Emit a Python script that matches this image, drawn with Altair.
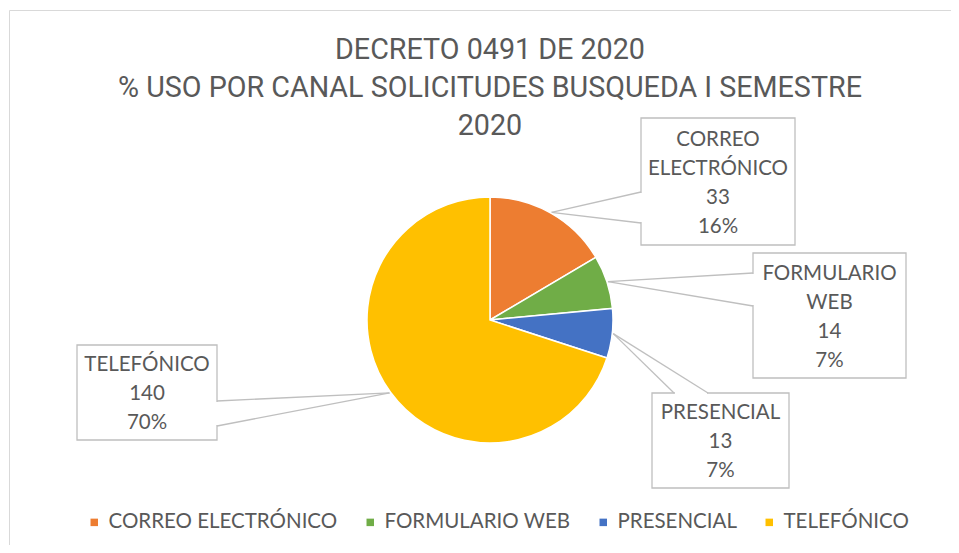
import math
import altair as alt
import pandas as pd

# ---------------- data ----------------
categories = ["CORREO ELECTRÓNICO", "FORMULARIO WEB", "PRESENCIAL", "TELEFÓNICO"]
values = [33, 14, 13, 140]
pct_labels = ["16%", "7%", "7%", "70%"]
label_names = ["CORREO\nELECTRÓNICO", "FORMULARIO\nWEB", "PRESENCIAL", "TELEFÓNICO"]
colors = ["#ED7D31", "#70AD47", "#4472C4", "#FFC000"]
title_lines = ["DECRETO 0491 DE 2020",
               "% USO POR CANAL SOLICITUDES BUSQUEDA I SEMESTRE",
               "2020"]

# ---------------- layout (page pixel coordinates) ----------------
W, H = 943, 537
CX, CY, R = 490, 320, 123
box_x1 = [641, 753, 652, 77]
box_x2 = [795, 906, 789, 217]
box_y1 = [118, 253, 393, 345]
box_y2 = [245, 378, 488, 440]
base_a = [(641, 192), (753, 273), (674, 393), (217, 401)]
base_b = [(641, 223), (753, 306), (708, 393), (217, 426)]
title_y = [50, 88, 126]
title_x = 490
LINE_H = 29

TEXT = "#595959"
GRID = "#BFBFBF"
LABEL_FONT = "Lato"
TITLE_FONT = "Roboto"

xs = alt.Scale(domain=[8, 8 + W], nice=False, zero=False)
ys = alt.Scale(domain=[8, 8 + H], nice=False, zero=False, reverse=True)


def X(f):
    return alt.X(f, type="quantitative", scale=xs, axis=None)


def Y(f):
    return alt.Y(f, type="quantitative", scale=ys, axis=None)


# ---------------- pie ----------------
pie_df = pd.DataFrame({"cat": categories, "val": values, "idx": list(range(len(values)))})
pie = alt.Chart(pie_df).mark_arc(
    x=CX - 8, y=CY - 8, outerRadius=R, stroke="white", strokeWidth=1.5
).encode(
    theta=alt.Theta("val:Q", stack=True),
    order=alt.Order("idx:Q"),
    color=alt.Color(
        "cat:N",
        scale=alt.Scale(domain=categories, range=colors),
        legend=alt.Legend(
            title=None, orient="none", direction="horizontal",
            legendX=76, legendY=504,
            symbolType="square", symbolSize=56, symbolStrokeWidth=0,
            labelFont=LABEL_FONT, labelFontSize=20.5, labelColor=TEXT,
            labelOffset=4, columnPadding=22, labelLimit=400,
        ),
    ),
)

# ---------------- callouts ----------------
total = sum(values)
tips = []
cum = 0
for v in values:
    mid = (cum + v / 2) / total * 2 * math.pi
    tips.append((CX + (R + 1) * math.sin(mid), CY - (R + 1) * math.cos(mid)))
    cum += v

label_text = [f"{n}\n{v}\n{p}" for n, v, p in zip(label_names, values, pct_labels)]
n_lines = [t.count("\n") + 1 for t in label_text]
box_df = pd.DataFrame({
    "x1": box_x1, "x2": box_x2, "y1": box_y1, "y2": box_y2,
    "cx": [(a + b) / 2 for a, b in zip(box_x1, box_x2)],
    "cy": [(a + b) / 2 - (n - 1) / 2 * LINE_H + 1.5
           for a, b, n in zip(box_y1, box_y2, n_lines)],
    "label": label_text,
})

boxes = alt.Chart(box_df).mark_rect(fill="white", stroke=GRID, strokeWidth=1.3).encode(
    x=X("x1"), x2="x2", y=Y("y1"), y2="y2",
)

gap_rows = []
for (ax, ay), (bx, by) in zip(base_a, base_b):
    if ax == bx:
        gap_rows.append({"xa": ax, "xb": bx, "ya": ay + 1, "yb": by - 1})
    else:
        gap_rows.append({"xa": ax + 1, "xb": bx - 1, "ya": ay, "yb": by})
gaps = alt.Chart(pd.DataFrame(gap_rows)).mark_rule(color="white", strokeWidth=2.5).encode(
    x=X("xa"), x2="xb", y=Y("ya"), y2="yb"
)

lead_rows = []
for (ax, ay), (bx, by), (tx, ty) in zip(base_a, base_b, tips):
    lead_rows.append({"xa": ax, "ya": ay, "xb": tx, "yb": ty})
    lead_rows.append({"xa": bx, "ya": by, "xb": tx, "yb": ty})
leaders = alt.Chart(pd.DataFrame(lead_rows)).mark_rule(color=GRID, strokeWidth=1.3).encode(
    x=X("xa"), x2="xb", y=Y("ya"), y2="yb"
)

labels = alt.Chart(box_df).mark_text(
    font=LABEL_FONT, fontSize=20.5, color=TEXT, align="center", baseline="middle",
    lineBreak="\n", lineHeight=LINE_H,
).encode(x=X("cx"), y=Y("cy"), text="label:N")

# ---------------- title ----------------
title_df = pd.DataFrame({"t": title_lines, "ty": title_y, "tx": [title_x] * 3})
title = alt.Chart(title_df).mark_text(
    font=TITLE_FONT, fontSize=28.7, color=TEXT, align="center", baseline="middle"
).encode(x=X("tx"), y=Y("ty"), text="t:N")

# ---------------- chart border (top / left visible) ----------------
border_df = pd.DataFrame({"xa": [9.5, 9.5], "xb": [951, 9.5], "ya": [10.5, 10.5], "yb": [10.5, 545]})
border = alt.Chart(border_df).mark_rule(color="#D9D9D9", strokeWidth=1).encode(
    x=X("xa"), x2="xb", y=Y("ya"), y2="yb"
)

chart = alt.layer(border, title, boxes, gaps, leaders, labels, pie).properties(
    width=W, height=H, padding=0, autosize="none"
).configure_view(stroke=None)

chart.save("out.html", embed_options={"renderer": "svg", "actions": False})
